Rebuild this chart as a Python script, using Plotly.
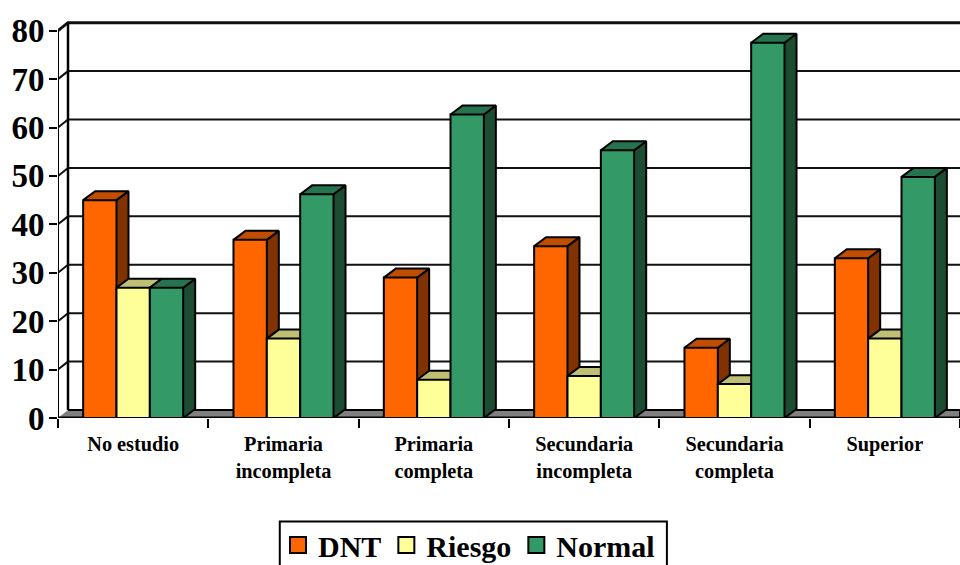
import plotly.graph_objects as go

categories = ["No estudio", "Primaria<br>incompleta", "Primaria<br>completa",
              "Secundaria<br>incompleta", "Secundaria<br>completa", "Superior"]
dnt = [45, 36.8, 29, 35.5, 14.5, 33]
riesgo = [26.9, 16.4, 7.9, 8.7, 7, 16.4]
normal = [26.9, 46.2, 62.7, 55.3, 77.5, 49.8]
y_ticks = [0, 10, 20, 30, 40, 50, 60, 70, 80]

W, H = 960, 565
LEFT, BOTTOM_PX, TOP_PX = 58.3, 418.4, 20.7
PX_X = (W - LEFT) / len(categories)
YMAX = (BOTTOM_PX - TOP_PX) / 4.85
WALL_DX, WALL_DY = 10 / PX_X, 8 / 4.85
BAR_DX, BAR_DY = 12 / PX_X, 9 / 4.85
BAR_W = 100 / 3 / PX_X
XMIN, XMAX = -0.5, len(categories) - 0.5

series = [
    ("DNT", dnt, "#FF6600", "#C04D00", "#803300"),
    ("Riesgo", riesgo, "#FFFF99", "#BFBF73", "#80804D"),
    ("Normal", normal, "#339966", "#267350", "#1C4D33"),
]

fig = go.Figure()


def poly(xs, ys, fill, axis="", width=2):
    fig.add_trace(go.Scatter(
        x=xs, y=ys, mode="lines", fill="toself", fillcolor=fill,
        line=dict(color="#000", width=width), hoverinfo="skip",
        showlegend=False, cliponaxis=False,
        xaxis="x" + axis, yaxis="y" + axis))


def line(xs, ys, width=2, color="#000"):
    fig.add_trace(go.Scatter(
        x=xs, y=ys, mode="lines", line=dict(color=color, width=width),
        hoverinfo="skip", showlegend=False, cliponaxis=False))


# walls, floor and gridlines
poly([XMIN, XMAX, XMAX, XMIN + WALL_DX], [0, 0, WALL_DY, WALL_DY], "#808080", width=2)
for v in y_ticks[1:]:
    line([XMIN, XMIN + WALL_DX, XMAX], [v, v + WALL_DY, v + WALL_DY],
         width=3 if v == y_ticks[-1] else 2, color="#111")
line([XMIN, XMIN], [0, y_ticks[-1]], width=2)
line([XMIN + WALL_DX, XMIN + WALL_DX], [WALL_DY, y_ticks[-1] + WALL_DY], width=2.5)

# layered bars: side and top faces of a series sit under its front faces
for k, (name, vals, front, top, side) in enumerate(series):
    axis = "" if k == 0 else str(k + 1)
    for i, v in enumerate(vals):
        x0 = i + (k - 1.5) * BAR_W
        x1 = x0 + BAR_W
        poly([x1, x1 + BAR_DX, x1 + BAR_DX, x1], [0, BAR_DY, v + BAR_DY, v], side, axis)
        poly([x0, x0 + BAR_DX, x1 + BAR_DX, x1], [v, v + BAR_DY, v + BAR_DY, v], top, axis)
    next_axis = str(k + 2)
    fig.add_trace(go.Bar(
        x=[i + (k - 1) * BAR_W for i in range(len(vals))], y=vals, width=BAR_W,
        marker=dict(color=front, line=dict(color="#000", width=2)),
        name=name, showlegend=False, xaxis="x" + next_axis, yaxis="y" + next_axis))

line([XMIN, XMAX], [0, 0], width=3)

for name, vals, front, top, side in series:
    fig.add_trace(go.Scatter(
        x=[None], y=[None], mode="markers", name=name,
        marker=dict(symbol="square", size=16, color=front, line=dict(color="#000", width=2))))

serif = "Liberation Serif"
layout = dict(
    width=W, height=H, autosize=False, paper_bgcolor="#fff", plot_bgcolor="#fff",
    margin=dict(l=LEFT, r=0, t=TOP_PX, b=H - BOTTOM_PX, pad=0, autoexpand=False),
    barmode="overlay",
    xaxis=dict(range=[XMIN, XMAX], tickmode="array",
               tickvals=list(range(len(categories))), ticktext=categories,
               tickfont=dict(family=serif, size=20.3, color="#000", weight=700),
               ticks="", showgrid=False, zeroline=False, showline=False,
               ticklabelstandoff=12,
               minor=dict(tickmode="array", tickvals=[i - 0.5 for i in range(len(categories) + 1)],
                          ticks="outside", ticklen=9, tickwidth=2, tickcolor="#000", showgrid=False)),
    yaxis=dict(range=[0, YMAX], tickmode="array", tickvals=y_ticks,
               tickfont=dict(family=serif, size=33, color="#000", weight=700),
               ticks="outside", ticklen=8, tickwidth=2, tickcolor="#000",
               ticklabelstandoff=-2,
               showgrid=False, zeroline=False, showline=False),
    legend=dict(orientation="h", xref="container", yref="container",
                x=278 / W, xanchor="left",
                y=1 - 519 / H, yanchor="top", borderwidth=0, bgcolor="rgba(0,0,0,0)",
                font=dict(family=serif, size=30, color="#000", weight=700),
                itemsizing="trace"),
    showlegend=True,
    shapes=[dict(type="rect", xref="paper", yref="paper", layer="below",
                 x0=(280 - LEFT) / (W - LEFT), x1=(667 - LEFT) / (W - LEFT),
                 y0=-(H + 10 - BOTTOM_PX) / (BOTTOM_PX - TOP_PX),
                 y1=-(522 - BOTTOM_PX) / (BOTTOM_PX - TOP_PX),
                 line=dict(color="#000", width=2), fillcolor="#fff")],
)
for n in ("2", "3", "4"):
    layout["xaxis" + n] = dict(range=[XMIN, XMAX], overlaying="x", visible=False, anchor="y" + n)
    layout["yaxis" + n] = dict(range=[0, YMAX], overlaying="y", visible=False, anchor="x" + n)
fig.update_layout(**layout)
fig.write_html("out.html", config={"displayModeBar": False},
               post_script="document.body.style.margin='0';")
